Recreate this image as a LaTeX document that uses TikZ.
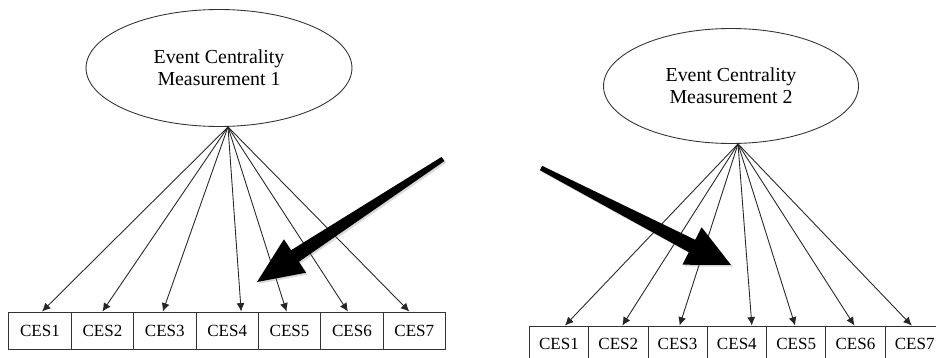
\documentclass[tikz,border=0pt]{standalone}
\usepackage{fontspec}
\setmainfont{Liberation Serif}
\usetikzlibrary{arrows.meta,shapes.geometric,positioning,shadows}

\begin{document}
\begin{tikzpicture}
  [x=0.02cm,y=-0.02cm,node distance=1.248cm,on grid,
   >={Latex[length=4.8pt,width=4.5pt]},
   factor/.style={ellipse,draw=black!80,line width=0.5pt,inner sep=0pt,align=center,
     font=\fontsize{11.3}{12.5}\selectfont},
   item/.style={rectangle,draw=black!80,line width=0.5pt,inner sep=0pt,
     minimum width=1.248cm,minimum height=0.74cm,font=\fontsize{9.7}{11}\selectfont},
   load/.style={->,draw=black!85,line width=0.5pt},
   pointer/.style={fill=black,draw=none,
     drop shadow={opacity=0.3,shadow xshift=1pt,shadow yshift=-1pt}}]

  \path [use as bounding box,clip] (0,0) rectangle (936,358);

  \begin{scope}
    % First model
    \node [factor,minimum width=5.32cm,minimum height=2.34cm] (m1) at (219,68)
      {Event Centrality\\Measurement 1};
    \node [item] (c1) at (40,330.5) {CES1};
    \node [item] (c2) [right=of c1] {CES2};
    \node [item] (c3) [right=of c2] {CES3};
    \node [item] (c4) [right=of c3] {CES4};
    \node [item] (c5) [right=of c4] {CES5};
    \node [item] (c6) [right=of c5] {CES6};
    \node [item] (c7) [right=of c6] {CES7};

    \coordinate (a1) at ([xshift=0.18cm]m1.south);
    \path (a1)
      edge [load] ([xshift=0.04cm]c1.north)
      edge [load] (c2.north)
      edge [load] ([xshift=-0.04cm]c3.north)
      edge [load] ([xshift=0.28cm]c4.north)
      edge [load] ([xshift=-0.06cm]c5.north)
      edge [load] ([xshift=-0.08cm]c6.north)
      edge [load] ([xshift=-0.1cm]c7.north);
  \end{scope}

  \begin{scope}[node distance=1.186cm,
      item/.append style={minimum width=1.186cm,minimum height=0.72cm}]
    % Second model
    \node [factor,minimum width=5.1cm,minimum height=2.3cm] (m2) at (731,86)
      {Event Centrality\\Measurement 2};
    \node [item] (c1') at (559,344) {CES1};
    \node [item] (c2') [right=of c1'] {CES2};
    \node [item] (c3') [right=of c2'] {CES3};
    \node [item] (c4') [right=of c3'] {CES4};
    \node [item] (c5') [right=of c4'] {CES5};
    \node [item] (c6') [right=of c5'] {CES6};
    \node [item] (c7') [right=of c6'] {CES7};

    \coordinate (a2) at ([xshift=0.14cm]m2.south);
    \path (a2)
      edge [load] ([xshift=0.12cm]c1'.north)
      edge [load] ([xshift=0.08cm]c2'.north)
      edge [load] ([xshift=0.04cm]c3'.north)
      edge [load] ([xshift=0.3cm]c4'.north)
      edge [load] ([xshift=-0.02cm]c5'.north)
      edge [load] ([xshift=-0.02cm]c6'.north)
      edge [load] ([xshift=-0.06cm]c7'.north);
  \end{scope}

  % big pointers
  \fill [pointer] (444.4,161.1) -- (298.9,261.8) -- (306.1,272.7) -- (257,282)
    -- (283.9,239.3) -- (291.1,250.2) -- (441.6,156.9) -- cycle;
  \fill [pointer] (539.9,170.2) -- (688.8,252.2) -- (682.4,264.7) -- (731,265)
    -- (701.6,227.3) -- (695.2,239.8) -- (542.1,165.8) -- cycle;

\end{tikzpicture}
\end{document}
